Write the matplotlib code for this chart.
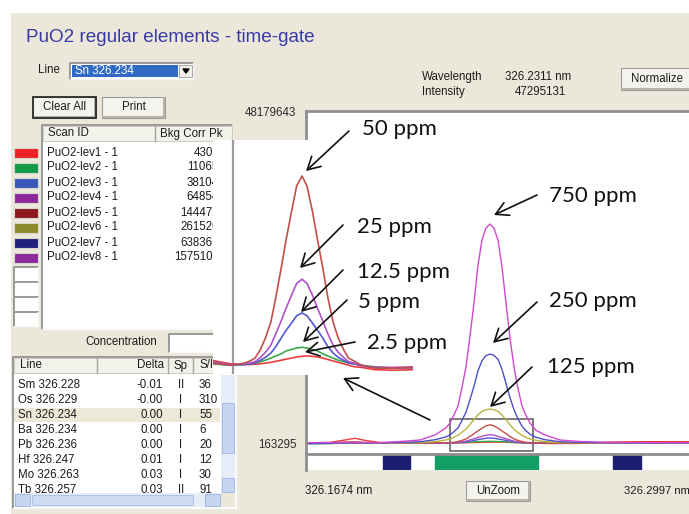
import matplotlib
matplotlib.use("Agg")
import matplotlib.pyplot as plt
from matplotlib.patches import Rectangle, Polygon
from matplotlib.lines import Line2D

W, H = 689, 514

# Scans listed in the upper table
scan_ids = ["PuO2-lev1 - 1", "PuO2-lev2 - 1", "PuO2-lev3 - 1", "PuO2-lev4 - 1",
            "PuO2-lev5 - 1", "PuO2-lev6 - 1", "PuO2-lev7 - 1", "PuO2-lev8 - 1"]
bkg_corr_pk = ["4303", "11065", "38104", "64854", "144472", "261520", "638361", "1575101"]
swatch_colors = ["#ee2222", "#129a48", "#3a58b8", "#8c2a9c", "#8a1a1c", "#8c8a2c", "#22227a", "#8c2a9c"]
trace_colors = ["#ee3c3c", "#3aaa4a", "#5258d0", "#b050c8", "#c24e4a", "#b8b43c", "#4e4ec8", "#d048d0"]

# Spectral lines in the lower table
line_names = ["Sm 326.228", "Os 326.229", "Sn 326.234", "Ba 326.234",
              "Pb 326.236", "Hf 326.247", "Mo 326.263", "Tb 326.257"]
line_delta = ["-0.01", "-0.00", "0.00", "0.00", "0.00", "0.01", "0.03", "0.03"]
line_sp = ["II", "I", "I", "I", "I", "I", "I", "II"]
line_sn = ["36", "310", "55", "6", "20", "12", "30", "91"]
selected_line = "Sn 326.234"

# Spectra: wavelength in nm, intensity in millions of counts
wavelength = [326.1674, 326.1755, 326.1806, 326.1839, 326.1873, 326.1924, 326.1991, 326.2059, 326.2109, 326.2146,
              326.2160, 326.2173, 326.2187, 326.2200, 326.2214, 326.2227, 326.2241, 326.2254, 326.2268, 326.2281,
              326.2295,
              326.2308, 326.2322, 326.2335, 326.2349, 326.2362, 326.2376, 326.2389, 326.2403, 326.2416, 326.2430,
              326.2450, 326.2481, 326.2531, 326.2599, 326.2700, 326.2801, 326.2902, 326.2967]
lev1 = [0.18, 0.25, 0.60, 0.85, 0.55, 0.22, 0.20, 0.23, 0.18, 0.17,
        0.17, 0.175, 0.18, 0.19, 0.20, 0.215, 0.23, 0.245, 0.26, 0.275,
        0.285,
        0.29, 0.285, 0.275, 0.26, 0.24, 0.22, 0.20, 0.18, 0.16, 0.14,
        0.13, 0.10, 0.09, 0.10, 0.30, 0.35, 0.36, 0.36]
lev2 = [0.05, 0.08, 0.14, 0.15, 0.15, 0.15, 0.16, 0.18, 0.16, 0.17,
        0.18, 0.19, 0.21, 0.23, 0.26, 0.29, 0.32, 0.36, 0.38, 0.40,
        0.41,
        0.40, 0.38, 0.36, 0.32, 0.29, 0.26, 0.23, 0.21, 0.19, 0.18,
        0.16, 0.14, 0.12, 0.13, 0.15, 0.16, 0.16, 0.16]
lev3 = [0.08, 0.10, 0.15, 0.16, 0.16, 0.16, 0.16, 0.21, 0.16, 0.17,
        0.18, 0.19, 0.23, 0.27, 0.33, 0.42, 0.54, 0.65, 0.75, 0.85,
        0.89,
        0.85, 0.75, 0.65, 0.54, 0.42, 0.33, 0.27, 0.23, 0.19, 0.18,
        0.15, 0.13, 0.12, 0.13, 0.15, 0.15, 0.15, 0.15]
lev4 = [0.18, 0.18, 0.20, 0.20, 0.18, 0.17, 0.17, 0.20, 0.17, 0.18,
        0.19, 0.21, 0.27, 0.34, 0.44, 0.60, 0.78, 0.96, 1.14, 1.30,
        1.36,
        1.30, 1.14, 0.96, 0.78, 0.60, 0.44, 0.34, 0.27, 0.21, 0.19,
        0.15, 0.13, 0.13, 0.14, 0.17, 0.17, 0.17, 0.17]
lev5 = [0.17, 0.20, 0.30, 0.35, 0.25, 0.18, 0.17, 0.19, 0.16, 0.19,
        0.22, 0.26, 0.38, 0.54, 0.76, 1.11, 1.52, 1.92, 2.31, 2.66,
        2.80,
        2.66, 2.31, 1.92, 1.52, 1.11, 0.76, 0.54, 0.38, 0.26, 0.22,
        0.16, 0.12, 0.12, 0.13, 0.20, 0.25, 0.25, 0.25]
lev6 = [0.15, 0.16, 0.18, 0.18, 0.18, 0.18, 0.19, 0.23, 0.36, 0.60,
        0.75, 1.00, 1.29, 1.69, 2.18, 2.82, 3.56, 4.25, 4.74, 4.99,
        5.09,
        4.99, 4.74, 4.25, 3.56, 2.82, 2.18, 1.69, 1.29, 1.00, 0.75,
        0.55, 0.36, 0.23, 0.19, 0.18, 0.18, 0.18, 0.18]
lev7 = [0.10, 0.12, 0.18, 0.18, 0.17, 0.18, 0.25, 0.34, 0.64, 1.04,
        1.33, 1.81, 2.34, 3.40, 4.64, 6.40, 8.40, 10.58, 12.12, 12.83,
        13.06,
        12.90, 12.30, 10.90, 8.80, 6.80, 5.00, 3.70, 2.60, 1.95, 1.45,
        1.00, 0.64, 0.34, 0.25, 0.20, 0.18, 0.18, 0.18]
lev8 = [0.20, 0.22, 0.25, 0.24, 0.22, 0.23, 0.38, 0.60, 1.32, 2.34,
        3.06, 4.22, 5.53, 8.14, 11.19, 15.54, 20.47, 25.84, 29.61, 31.35,
        31.93,
        31.35, 29.61, 25.84, 20.47, 15.54, 11.19, 8.14, 5.53, 4.22, 3.06,
        2.00, 1.32, 0.60, 0.38, 0.25, 0.22, 0.20, 0.20]
spectra = [lev1, lev2, lev3, lev4, lev5, lev6, lev7, lev8]

# Background / peak windows under the plot
window_start = [326.1934, 326.2109, 326.2710]
window_end = [326.2025, 326.2457, 326.2805]
window_color = ["#1e1e70", "#14a064", "#1e1e70"]

y_tick_values = [0.163295, 48.179643]
y_tick_labels = ["163295", "48179643"]
zoom_box = [326.2160, 326.2440, -1.0, 3.64]

UI_FONT = "Liberation Sans"
BG = "#ebe8db"
INK = "#1c1c1c"


def px_rect(x0, y0, x1, y1):
    return [x0 / W, 1 - y1 / H, (x1 - x0) / W, (y1 - y0) / H]


fig = plt.figure(figsize=(W / 100, H / 100), dpi=100)
fig.patch.set_facecolor("white")

ui = fig.add_axes([0, 0, 1, 1], zorder=0)
ui.set_xlim(0, W)
ui.set_ylim(H, 0)
ui.axis("off")


def box(x0, y0, x1, y1, fc="white", ec="none", lw=0.8, z=1):
    ui.add_patch(Rectangle((x0, y0), x1 - x0, y1 - y0, facecolor=fc,
                           edgecolor=ec, linewidth=lw, zorder=z))


def sunken(x0, y0, x1, y1, fc="white", z=1):
    box(x0, y0, x1, y1, fc=fc, z=z)
    ui.plot([x0, x0, x1], [y1, y0, y0], color="#8a8a8a", lw=1.2, zorder=z + 0.1)
    ui.plot([x0, x1, x1], [y1, y1, y0], color="#f8f8f8", lw=1.0, zorder=z + 0.1)


def button(x0, y0, x1, y1, text, default=False):
    box(x0, y0, x1, y1, fc="#f4f3ee", ec="#9a9a9a", lw=0.8, z=2)
    ui.plot([x0 + 1, x1 - 1, x1 - 1], [y1 - 1, y1 - 1, y0 + 1], color="#b8b5a8", lw=1.5, zorder=2.1)
    if default:
        box(x0, y0, x1, y1, fc="none", ec="#2a2a2a", lw=1.3, z=2.2)
    label((x0 + x1) / 2, (y0 + y1) / 2, text, ha="center")


def label(x, y, s, ha="left", size=8.3, color=INK, z=3, **kw):
    ui.text(x, y, s, ha=ha, va="center", fontsize=size, color=color,
            family=UI_FONT, zorder=z, **kw)


# window background
box(11, 13, W, H, fc=BG, z=0)

label(26, 37, "PuO2 regular elements - time-gate", size=13.6, color="#3a3aa6")

# line selector
label(38, 70, "Line")
sunken(70, 63, 193, 79)
box(72, 65, 178, 77, fc="#316ac5", z=2)
label(75, 71, selected_line, color="white")
box(179, 65, 192, 77, fc="#f0efe8", ec="#9a9a9a", lw=0.6, z=2)
ui.add_patch(Polygon([(183, 69), (189, 69), (186, 73)], closed=True, color="black", zorder=3))

button(33, 97, 96, 118, "Clear All", default=True)
button(102, 97, 165, 118, "Print")

# upper table (scans)
sunken(42, 125, 232, 329)
box(43, 126, 232, 141, fc="#f2f1ea", ec="#c8c5b8", lw=0.6, z=2)
ui.plot([155, 155], [126, 141], color="#a8a59a", lw=1.0, zorder=2.2)
label(48, 133.5, "Scan ID")
label(160, 133.5, "Bkg Corr Pk")
for i, (sid, val, col) in enumerate(zip(scan_ids, bkg_corr_pk, swatch_colors)):
    yc = 152.5 + 15 * i
    box(14, yc - 5, 38, yc + 5, fc=col, ec="#d8d6cc", lw=0.8, z=2)
    label(47, yc, sid)
    label(219, yc, val, ha="right")
for j in range(4):
    y0 = 267 + 15 * j
    sunken(14, y0, 38, y0 + 14)

label(121, 342, "Concentration", ha="center")
sunken(169, 334, 232, 352)

# lower table (spectral lines)
sunken(13, 357, 236, 508)
box(14, 358, 221, 373, fc="#f2f1ea", ec="#c8c5b8", lw=0.6, z=2)
for xs in [97, 168, 193]:
    ui.plot([xs, xs], [358, 373], color="#a8a59a", lw=1.0, zorder=2.2)
label(20, 365.5, "Line")
label(164, 365.5, "Delta", ha="right")
label(173, 365.5, "Sp")
label(199, 365.5, "S/I")
for i, (nm, d, sp, sn) in enumerate(zip(line_names, line_delta, line_sp, line_sn)):
    yc = 385 + 15 * i
    if nm == selected_line:
        box(14, yc - 7.5, 220, yc + 7, fc="#ece9d8", z=1.5)
    label(18, yc, nm)
    label(163, yc, d, ha="right")
    label(181, yc, sp, ha="center")
    label(199, yc, sn)
# scrollbars
box(14, 493, 221, 507, fc="#e6edf8", z=4)
box(15, 494, 30, 506, fc="#c6d6f2", ec="#9db4e0", lw=0.6, z=4.1)
box(32, 495, 193, 505, fc="#cddbf3", ec="#a9bfe6", lw=0.6, z=4.1)
box(205, 494, 220, 506, fc="#c6d6f2", ec="#9db4e0", lw=0.6, z=4.1)
box(221, 374, 235, 493, fc="#e6edf8", z=4)
box(222, 403, 234, 453, fc="#c6d6f2", ec="#9db4e0", lw=0.6, z=4.1)
box(222, 478, 234, 492, fc="#c6d6f2", ec="#9db4e0", lw=0.6, z=4.1)
box(221, 493, 235, 507, fc=BG, z=4)

# readout at top right
label(422, 77, "Wavelength")
label(422, 92, "Intensity")
label(505, 77, "326.2311 nm")
label(566, 92, "47295131", ha="right")
button(621, 68, 694, 90, "Normalize")

# bottom of the plot
label(305, 491, "326.1674 nm")
label(624, 491, "326.2997 nm", size=8.1)
button(466, 481, 530, 501, "UnZoom")

# main spectrum plot
NM_PER_PX = 0.0003375
per_px = (y_tick_values[1] - y_tick_values[0]) / (443 - 112)
x_lim = (wavelength[0], wavelength[0] + (689 - 306) * NM_PER_PX)

main = fig.add_axes(px_rect(306, 111, 689, 453), zorder=1)
main.set_facecolor("white")
for lev, col in zip(spectra, trace_colors):
    main.plot(wavelength, lev, color=col, lw=1.0)
main.add_patch(Rectangle((zoom_box[0], zoom_box[2]), zoom_box[1] - zoom_box[0],
                         zoom_box[3] - zoom_box[2], fill=False, edgecolor="#5a5a5a", lw=1.1))
main.set_xlim(*x_lim)
main.set_ylim(y_tick_values[0] - (453 - 443) * per_px, y_tick_values[1] + (112 - 111) * per_px)
main.set_xticks([])
main.set_yticks(y_tick_values)
main.set_yticklabels(y_tick_labels, family=UI_FONT, fontsize=8.3, color="#2a2a2a")
main.tick_params(axis="y", length=0, pad=7)
for side in ["right", "bottom"]:
    main.spines[side].set_visible(False)
for side in ["top", "left"]:
    main.spines[side].set_color("#8e8e8e")
    main.spines[side].set_linewidth(2)

# window strip
strip = fig.add_axes(px_rect(306, 454, 689, 470), zorder=1)
strip.set_facecolor("white")
for s, e, c in zip(window_start, window_end, window_color):
    strip.axvspan(s, e, color=c)
strip.set_xlim(*x_lim)
strip.set_ylim(0, 1)
strip.set_xticks([])
strip.set_yticks([])
for side in ["right", "bottom"]:
    strip.spines[side].set_visible(False)
for side in ["top", "left"]:
    strip.spines[side].set_color("#8e8e8e")
    strip.spines[side].set_linewidth(2)

# zoomed inset of the five lowest standards
INSET_NM_PER_PX = 0.00026
peak_wl = wavelength[lev5.index(max(lev5))]
k = (max(lev5) - y_tick_values[0]) / 189
inset = fig.add_axes(px_rect(213, 140, 413, 375), zorder=2)
inset.set_facecolor("white")
inset.add_artist(Line2D([233, 233], [140, 373], transform=ui.transData,
                        color="#9c9c9c", lw=1.6, zorder=1))
for lev, col in zip(spectra[:5], trace_colors[:5]):
    inset.plot(wavelength, lev, color=col, lw=1.2, zorder=2)
inset.set_xlim(peak_wl - 89 * INSET_NM_PER_PX, peak_wl + 111 * INSET_NM_PER_PX)
inset.set_ylim(y_tick_values[0] - 10 * k, y_tick_values[0] + 225 * k)
inset.set_xticks([])
inset.set_yticks([])
for sp in inset.spines.values():
    sp.set_visible(False)

# annotations
ov = fig.add_axes([0, 0, 1, 1], zorder=3)
ov.set_xlim(0, W)
ov.set_ylim(H, 0)
ov.axis("off")

arrows = [((349, 131), (306, 171)), ((343, 225), (300, 268)), ((343, 270), (301, 312)),
          ((347, 300), (303, 342)), ((355, 342), (305, 352)), ((430, 420), (343, 378)),
          ((537, 195), (494, 215)), ((537, 302), (493, 343)), ((532, 367), (490, 407))]
for start, tip in arrows:
    ov.annotate("", xy=tip, xytext=start,
                arrowprops=dict(arrowstyle="->,head_length=0.45,head_width=0.25",
                                color="#111111", lw=1.2, mutation_scale=20,
                                shrinkA=0, shrinkB=0))

ppm_text = [("50 ppm", 362, 129), ("25 ppm", 357, 227), ("12.5 ppm", 357, 272),
            ("5 ppm", 358, 302), ("2.5 ppm", 367, 343), ("750 ppm", 549, 196),
            ("250 ppm", 549, 301), ("125 ppm", 547, 367)]
for s, x, y in ppm_text:
    ov.text(x, y, s, fontsize=16, family="Lato", color="#111111", ha="left", va="center")

fig.savefig("out.png", dpi=100)
